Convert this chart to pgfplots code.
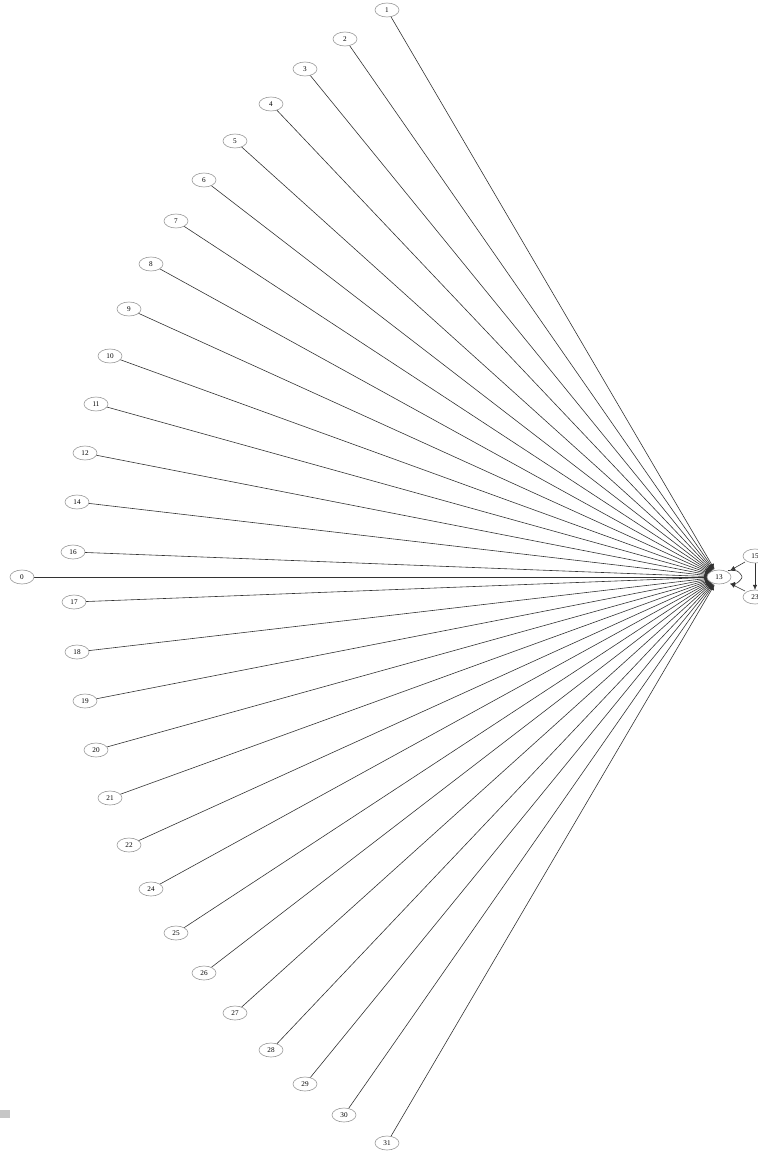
\documentclass[border=0pt]{standalone}
\usepackage{pgfplots}
\usepackage{pgfplotstable}
\pgfplotsset{compat=1.18}
\usepackage{fontspec}
\setmainfont{Liberation Serif}
\usetikzlibrary{shapes.geometric,arrows.meta}

% node centres in pixels of the reference (y grows downwards)
\pgfplotstableread{
label x y
1 387 10
2 345 39
3 305 69
4 271 104
5 235 141
6 204 180
7 176 221
8 151 264
9 129 309
10 110 356
11 96 404
12 85 453
14 77 502
16 73 552
0 22 577
17 74 602
18 77 652
19 85 701
20 96 750
21 110 798
22 129 845
24 151 889
25 176 933
26 204 973
27 235 1013
28 271 1050
29 305 1084
30 344 1115
31 387 1143
}\spokes

\pgfplotstableread{
label x y
13 719 577
15 755 556
23 755 597
}\hub

\begin{document}
\begin{tikzpicture}
\begin{axis}[
    width=379pt, height=575.5pt, scale only axis,
    xmin=0, xmax=758, ymin=0, ymax=1151,
    y dir=reverse, hide axis, clip=false,
    nodes near coords style={ellipse, draw=gray!80, fill=white, line width=0.3pt,
        minimum width=12pt, minimum height=7pt, inner sep=0pt, anchor=center,
        font=\fontsize{3.6}{4}\selectfont},
]
% grey patch, bottom left
\addplot [fill=gray!45, draw=none] coordinates {(0,1110) (10,1110) (10,1118) (0,1118)} -- cycle;

% edges to the hub
\addplot [quiver={u=719-\thisrow{x}, v=577-\thisrow{y}},
    black!80, line width=0.3pt, shorten >=4.4pt,
    -{Latex[length=2.8pt,width=2.4pt]}] table [x=x, y=y] {\spokes};

% small cluster on the right
\addplot [black!80, line width=0.3pt, -{Latex[length=2.6pt,width=2.2pt]}]
    coordinates {(745,562) (730,570.5)};
\addplot [black!80, line width=0.3pt, -{Latex[length=2.6pt,width=2.2pt]}]
    coordinates {(745,591) (730,583.5)};
\addplot [black!80, line width=0.3pt, smooth, -{Latex[length=2.6pt,width=2.2pt]}]
    coordinates {(728,570.5) (737,571) (742,577) (737,583) (730,584)};
\addplot [black!80, line width=0.3pt, -{Latex[length=2.6pt,width=2.2pt]}]
    coordinates {(755,563) (755,590)};

% nodes
\addplot [mark=none, draw=none, nodes near coords, point meta=explicit symbolic]
    table [x=x, y=y, meta=label] {\spokes};
\addplot [mark=none, draw=none, nodes near coords, point meta=explicit symbolic]
    table [x=x, y=y, meta=label] {\hub};
\end{axis}
\pgfresetboundingbox
\path (current axis.south west) rectangle (current axis.north east);
\end{tikzpicture}
\end{document}
